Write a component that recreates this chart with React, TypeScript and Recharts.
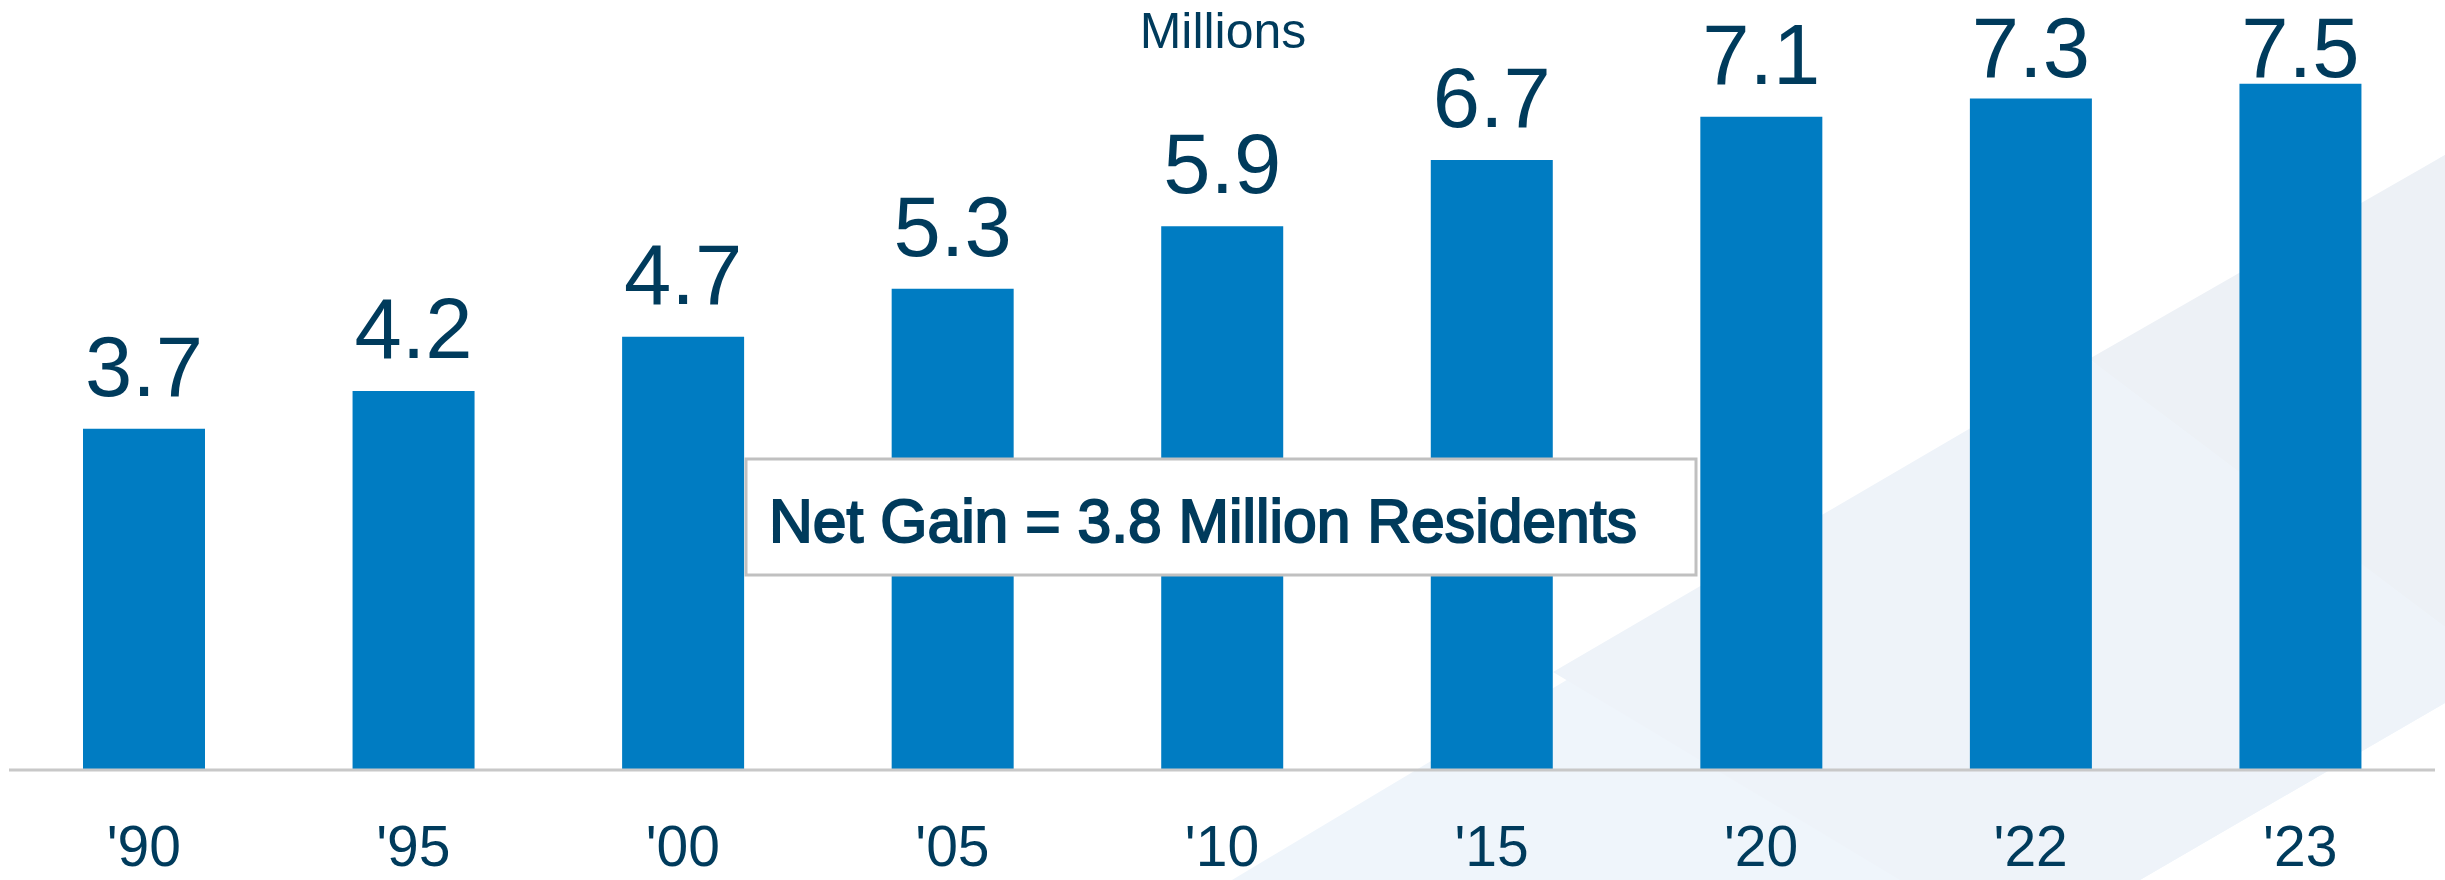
import React from "react"
import { BarChart, Bar, XAxis, YAxis, LabelList } from "recharts"

const years = ["'90", "'95", "'00", "'05", "'10", "'15", "'20", "'22", "'23"]
// bar heights (millions)
const population = [3.71, 4.12, 4.71, 5.23, 5.91, 6.63, 7.1, 7.3, 7.46]
// printed labels above the bars
const valueLabels = ["3.7", "4.2", "4.7", "5.3", "5.9", "6.7", "7.1", "7.3", "7.5"]

const data = years.map((year, i) => ({
  year,
  value: population[i],
  label: valueLabels[i],
}))

const NAVY = "#003b5c"
const BLUE = "#007cc2"
const FONT = "'Liberation Sans', Arial, sans-serif"

const ValueLabel = (props: any) => {
  const { x, y, width, value } = props
  // labels near the top are held just inside the picture
  const baseline = Math.max(y - 33, 77)
  return (
    <text
      x={x + width / 2}
      y={baseline}
      textAnchor="middle"
      fill={NAVY}
      fontSize={85}
      fontFamily={FONT}
    >
      {value}
    </text>
  )
}

const App = () => {
  return (
    <div
      style={{
        position: "absolute",
        left: 0,
        top: 0,
        width: 2445,
        height: 880,
        background: "#ffffff",
        overflow: "hidden",
      }}
    >
      {/* faint decorative shapes behind the chart */}
      <svg
        width={2445}
        height={880}
        style={{ position: "absolute", left: 0, top: 0 }}
      >
        <polygon points="1232,880 2445,155 2445,703 2140,880" fill="#eff5fb" />
        <polygon points="2089,359 2445,155 2445,627" fill="#edf1f6" />
        <polygon points="1553,672 2089,359 2445,627 2445,703 2140,880 1900,880" fill="#eef3f9" />
      </svg>

      <div style={{ position: "absolute", left: 0, top: 0 }}>
        <BarChart
          width={2445}
          height={880}
          data={data}
          margin={{ top: 34, right: 10, left: 9, bottom: 0 }}
        >
          <XAxis
            dataKey="year"
            height={110}
            tickLine={false}
            tickSize={0}
            tickMargin={56}
            axisLine={{ stroke: "#c8c8c8", strokeWidth: 3 }}
            tick={{ fill: NAVY, fontSize: 57, fontFamily: FONT }}
            interval={0}
          />
          <YAxis hide domain={[0, 8]} />
          <Bar dataKey="value" fill={BLUE} barSize={122} isAnimationActive={false}>
            <LabelList dataKey="label" content={<ValueLabel />} />
          </Bar>
        </BarChart>
      </div>

      {/* title and annotation box */}
      <svg
        width={2445}
        height={880}
        style={{ position: "absolute", left: 0, top: 0, pointerEvents: "none" }}
      >
        <text
          x={1223}
          y={48}
          textAnchor="middle"
          fill={NAVY}
          fontSize={50}
          fontFamily={FONT}
        >
          Millions
        </text>
        <rect
          x={746}
          y={459}
          width={950}
          height={116}
          fill="#ffffff"
          stroke="#c0c0c0"
          strokeWidth={3}
        />
        <text
          x={769}
          y={542}
          fill={NAVY}
          stroke={NAVY}
          strokeWidth={2}
          fontSize={61}
          fontFamily={FONT}
          textLength={868}
          lengthAdjust="spacingAndGlyphs"
        >
          Net Gain = 3.8 Million Residents
        </text>
      </svg>
    </div>
  )
}

export default App
